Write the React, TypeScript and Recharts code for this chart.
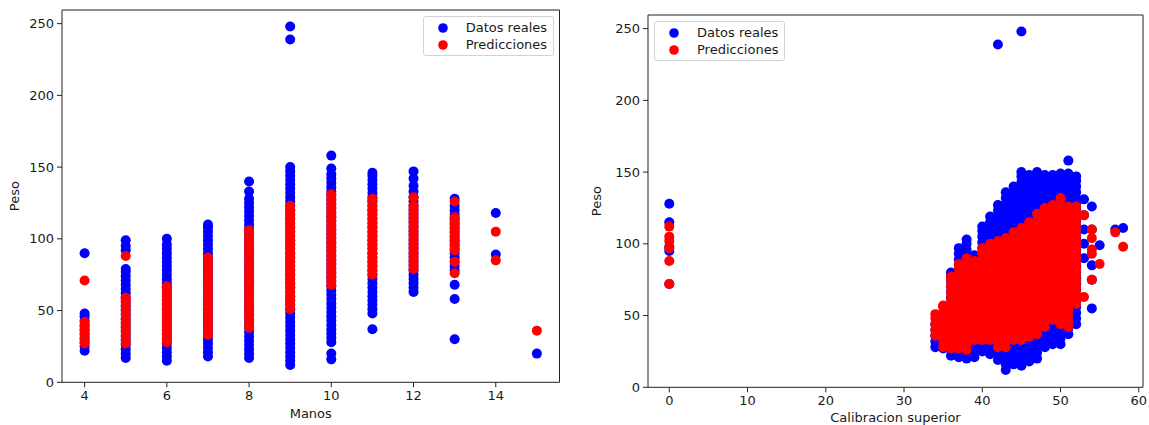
import { ScatterChart, Scatter, XAxis, YAxis, ReferenceArea, Legend } from 'recharts';

const FONT = '"DejaVu Sans", sans-serif';
const TEXT = '#1a1a1a';
const BLUE = '#0000ff';
const RED = '#ff0000';

// Manos vs Peso (one list of pesos per manos value)
const manosValues = [4, 5, 6, 7, 8, 9, 10, 11, 12, 13, 14, 15];
const pesoRealPorManos = [
  [22, 25, 28, 31, 34, 37, 40, 43, 46, 48, 90],
  [17, 20, 23, 26, 29, 32, 35, 38, 41, 44, 47, 50, 53, 56, 59, 62, 65, 68, 71, 74, 77, 79, 92, 95, 99],
  [15, 18, 21, 24, 27, 30, 33, 36, 39, 42, 45, 48, 51, 54, 57, 60, 63, 66, 69, 72, 75, 78, 81, 84, 87, 90, 93, 96, 100],
  [18, 21, 24, 27, 30, 33, 36, 39, 42, 45, 48, 51, 54, 57, 60, 63, 66, 69, 72, 75, 78, 81, 84, 87, 90, 93, 96, 99, 102, 105, 108, 110],
  [17, 20, 23, 26, 29, 32, 35, 38, 41, 44, 47, 50, 53, 56, 59, 62, 65, 68, 71, 74, 77, 80, 83, 86, 89, 92, 95, 98, 101, 104, 107, 110, 113, 116, 119, 122, 125, 128, 133, 140],
  [12, 15, 18, 21, 24, 27, 30, 33, 36, 39, 42, 45, 48, 51, 54, 57, 60, 63, 66, 69, 72, 75, 78, 81, 84, 87, 90, 93, 96, 99, 102, 105, 108, 111, 114, 117, 120, 123, 126, 129, 132, 135, 138, 141, 144, 147, 150, 239, 248],
  [16, 20, 28, 31, 34, 37, 40, 43, 46, 49, 52, 55, 58, 61, 64, 67, 70, 73, 76, 79, 82, 85, 88, 91, 94, 97, 100, 103, 106, 109, 112, 115, 118, 121, 124, 127, 130, 133, 136, 139, 142, 145, 149, 158],
  [37, 48, 51, 54, 57, 60, 63, 66, 69, 72, 75, 78, 81, 84, 87, 90, 93, 96, 99, 102, 105, 108, 111, 114, 117, 120, 123, 126, 129, 132, 135, 138, 141, 144, 146],
  [63, 66, 69, 72, 75, 78, 81, 84, 87, 90, 93, 96, 99, 102, 105, 108, 111, 114, 117, 120, 123, 126, 129, 133, 137, 142, 147],
  [30, 58, 68, 78, 81, 84, 87, 90, 93, 96, 99, 102, 105, 108, 111, 114, 117, 120, 123, 128],
  [89, 118],
  [20],
];
const pesoPredPorManos = [
  [27, 30, 33, 36, 39, 42, 71],
  [27, 30, 33, 36, 39, 42, 45, 48, 51, 54, 57, 59, 88],
  [28, 31, 34, 37, 40, 43, 46, 49, 52, 55, 58, 61, 64, 67],
  [33, 36, 39, 42, 45, 48, 51, 54, 57, 60, 63, 66, 69, 72, 75, 78, 81, 84, 87],
  [38, 41, 44, 47, 50, 53, 56, 59, 62, 65, 68, 71, 74, 77, 80, 83, 86, 89, 92, 95, 98, 101, 104, 106],
  [51, 54, 57, 60, 63, 66, 69, 72, 75, 78, 81, 84, 87, 90, 93, 96, 99, 102, 105, 108, 111, 114, 117, 120, 123],
  [68, 71, 74, 77, 80, 83, 86, 89, 92, 95, 98, 101, 104, 107, 110, 113, 116, 119, 122, 125, 128, 131],
  [75, 78, 81, 84, 87, 90, 93, 96, 99, 102, 105, 108, 111, 114, 117, 120, 123, 126, 128],
  [79, 82, 85, 88, 91, 94, 97, 100, 103, 106, 109, 112, 115, 118, 121, 123, 129],
  [76, 84, 92, 95, 98, 101, 104, 107, 110, 113, 115, 126],
  [85, 105],
  [36],
];
const manosTicks = [4, 6, 8, 10, 12, 14];

// Calibracion superior vs Peso
const calibracionValues = [0, 34, 35, 36, 37, 38, 39, 40, 41, 42, 43, 44, 45, 46, 47, 48, 49, 50, 51, 52, 53, 54, 55, 57, 58];
const pesoRealPorCalibracion = [
  [72, 95, 98, 115, 128],
  [28, 32, 36, 40, 44],
  [27, 31, 35, 39, 43, 47, 51],
  [22, 26, 30, 34, 38, 42, 46, 50, 54, 58, 62, 66, 70, 74, 78, 80],
  [21, 25, 29, 33, 37, 41, 45, 49, 53, 57, 61, 65, 69, 73, 77, 81, 85, 89, 93, 97],
  [20, 24, 28, 32, 36, 40, 44, 48, 52, 56, 60, 64, 68, 72, 76, 80, 84, 88, 92, 96, 100, 103],
  [21, 25, 29, 33, 37, 41, 45, 49, 53, 57, 61, 65, 69, 73, 77, 81, 85, 89, 92],
  [25, 29, 33, 37, 41, 45, 49, 53, 57, 61, 65, 69, 73, 77, 81, 85, 89, 93, 97, 101, 105, 109, 112],
  [23, 27, 31, 35, 39, 43, 47, 51, 55, 59, 63, 67, 71, 75, 79, 83, 87, 91, 95, 99, 103, 107, 111, 115, 119],
  [19, 23, 27, 31, 35, 39, 43, 47, 51, 55, 59, 63, 67, 71, 75, 79, 83, 87, 91, 95, 99, 103, 107, 111, 115, 119, 123, 127, 239],
  [12, 16, 20, 24, 28, 32, 36, 40, 44, 48, 52, 56, 60, 64, 68, 72, 76, 80, 84, 88, 92, 96, 100, 104, 108, 112, 116, 120, 124, 128, 132, 136],
  [16, 20, 24, 28, 32, 36, 40, 44, 48, 52, 56, 60, 64, 68, 72, 76, 80, 84, 88, 92, 96, 100, 104, 108, 112, 116, 120, 124, 128, 132, 136, 140],
  [15, 19, 23, 27, 31, 35, 39, 43, 47, 51, 55, 59, 63, 67, 71, 75, 79, 83, 87, 91, 95, 99, 103, 107, 111, 115, 119, 123, 127, 131, 135, 139, 143, 147, 150, 248],
  [18, 22, 26, 30, 34, 38, 42, 46, 50, 54, 58, 62, 66, 70, 74, 78, 82, 86, 90, 94, 98, 102, 106, 110, 114, 118, 122, 126, 130, 134, 138, 142, 146, 148],
  [20, 24, 28, 32, 36, 40, 44, 48, 52, 56, 60, 64, 68, 72, 76, 80, 84, 88, 92, 96, 100, 104, 108, 112, 116, 120, 124, 128, 132, 136, 140, 144, 148, 150],
  [28, 32, 36, 40, 44, 48, 52, 56, 60, 64, 68, 72, 76, 80, 84, 88, 92, 96, 100, 104, 108, 112, 116, 120, 124, 128, 132, 136, 140, 144, 148],
  [30, 34, 38, 42, 46, 50, 54, 58, 62, 66, 70, 74, 78, 82, 86, 90, 94, 98, 102, 106, 110, 114, 118, 122, 126, 130, 134, 138, 142, 146, 148],
  [30, 34, 38, 42, 46, 50, 54, 58, 62, 66, 70, 74, 78, 82, 86, 90, 94, 98, 102, 106, 110, 114, 118, 122, 126, 130, 134, 138, 142, 146, 149],
  [37, 41, 45, 49, 53, 57, 61, 65, 69, 73, 77, 81, 85, 89, 93, 97, 101, 105, 109, 113, 117, 121, 125, 129, 133, 137, 141, 145, 149, 158],
  [44, 48, 52, 56, 60, 64, 68, 72, 76, 80, 84, 88, 92, 96, 100, 104, 108, 112, 116, 120, 124, 128, 132, 136, 140, 144, 147],
  [90, 100, 110, 120, 131],
  [55, 75, 85, 110, 126],
  [99],
  [110],
  [111],
];
const pesoPredPorCalibracion = [
  [72, 88, 97, 102, 105, 112],
  [36, 40, 44, 48, 51],
  [28, 32, 36, 40, 44, 48, 52, 56, 57],
  [27, 31, 35, 39, 43, 47, 51, 55, 59, 63, 67, 71, 75, 77],
  [27, 31, 35, 39, 43, 47, 51, 55, 59, 63, 67, 71, 75, 79, 83, 86],
  [26, 30, 34, 38, 42, 46, 50, 54, 58, 62, 66, 70, 74, 78, 82, 86, 90],
  [33, 37, 41, 45, 49, 53, 57, 61, 65, 69, 73, 77, 81, 85, 88],
  [33, 37, 41, 45, 49, 53, 57, 61, 65, 69, 73, 77, 81, 85, 89, 93, 97],
  [33, 37, 41, 45, 49, 53, 57, 61, 65, 69, 73, 77, 81, 85, 89, 93, 97, 100],
  [28, 32, 36, 40, 44, 48, 52, 56, 60, 64, 68, 72, 76, 80, 84, 88, 92, 96, 100, 102],
  [28, 32, 36, 40, 44, 48, 52, 56, 60, 64, 68, 72, 76, 80, 84, 88, 92, 96, 100, 104],
  [33, 37, 41, 45, 49, 53, 57, 61, 65, 69, 73, 77, 81, 85, 89, 93, 97, 101, 105, 108],
  [33, 37, 41, 45, 49, 53, 57, 61, 65, 69, 73, 77, 81, 85, 89, 93, 97, 101, 105, 109, 111],
  [35, 39, 43, 47, 51, 55, 59, 63, 67, 71, 75, 79, 83, 87, 91, 95, 99, 103, 107, 111, 115],
  [37, 41, 45, 49, 53, 57, 61, 65, 69, 73, 77, 81, 85, 89, 93, 97, 101, 105, 109, 113, 117, 121],
  [42, 46, 50, 54, 58, 62, 66, 70, 74, 78, 82, 86, 90, 94, 98, 102, 106, 110, 114, 118, 122, 125],
  [47, 51, 55, 59, 63, 67, 71, 75, 79, 83, 87, 91, 95, 99, 103, 107, 111, 115, 119, 123, 127],
  [44, 48, 52, 56, 60, 64, 68, 72, 76, 80, 84, 88, 92, 96, 100, 104, 108, 112, 116, 120, 124, 128, 132],
  [42, 46, 50, 54, 58, 62, 66, 70, 74, 78, 82, 86, 90, 94, 98, 102, 106, 110, 114, 118, 122, 126],
  [58, 62, 66, 70, 74, 78, 82, 86, 90, 94, 98, 102, 106, 110, 114, 118, 122, 126],
  [63, 120],
  [75, 93, 96, 104, 110],
  [86],
  [108],
  [98],
];
const calibracionTicks = [0, 10, 20, 30, 40, 50, 60];
const pesoTicks = [0, 50, 100, 150, 200, 250];

const toPoints = (xs: number[], ys: number[][]) =>
  xs.flatMap((x, i) => ys[i].map((y) => ({ x, y })));

const Dot = (props: any) => <circle cx={props.cx} cy={props.cy} r={5} fill={props.fill} />;

const LegendBox = ({ payload }: any) => (
  <div
    style={{
      position: 'relative',
      width: 131,
      height: 40,
      boxSizing: 'border-box',
      border: '1px solid #d3d3d3',
      borderRadius: 3,
      background: 'rgba(255,255,255,0.8)',
      fontFamily: FONT,
      fontSize: 13,
      color: TEXT,
    }}
  >
    {(payload || []).map((entry: any, i: number) => (
      <div key={i} style={{ position: 'absolute', left: 0, top: 3 + i * 17, height: 16, width: 131 }}>
        <svg width={30} height={16} style={{ position: 'absolute', left: 0, top: 0 }}>
          <circle cx={19} cy={8} r={4.8} fill={entry.color} />
        </svg>
        <span style={{ position: 'absolute', left: 42, top: 0, lineHeight: '16px', whiteSpace: 'nowrap' }}>
          {entry.value}
        </span>
      </div>
    ))}
  </div>
);

type PanelProps = {
  width: number;
  yAxisWidth: number;
  marginRight: number;
  marginTop: number;
  xAxisHeight: number;
  xDomain: [number, number];
  xTicks: number[];
  xLabel: string;
  xLabelOffset: number;
  yLabelX: number;
  legendLeft: number;
  legendTop: number;
  real: { x: number; y: number }[];
  pred: { x: number; y: number }[];
};

const Panel = (p: PanelProps) => {
  const yDomain: [number, number] = [0, 259.5];
  const plotTop = p.marginTop;
  const plotBottom = 425 - p.xAxisHeight;
  const yMid = (plotTop + plotBottom) / 2;
  return (
    <ScatterChart
      width={p.width}
      height={425}
      margin={{ top: p.marginTop, right: p.marginRight, bottom: 0, left: 0 }}
    >
      <XAxis
        type="number"
        dataKey="x"
        domain={p.xDomain}
        allowDataOverflow
        ticks={p.xTicks}
        interval={0}
        height={p.xAxisHeight}
        axisLine={false}
        tickSize={5}
        tickMargin={3}
        tickLine={{ stroke: '#222' }}
        tick={{ fill: TEXT, fontSize: 13, fontFamily: FONT }}
        label={{ value: p.xLabel, position: 'insideBottom', offset: p.xLabelOffset, fill: TEXT, fontSize: 13, fontFamily: FONT }}
      />
      <YAxis
        type="number"
        dataKey="y"
        domain={yDomain}
        allowDataOverflow
        ticks={pesoTicks}
        interval={0}
        width={p.yAxisWidth}
        axisLine={false}
        tickSize={5}
        tickMargin={3}
        tickLine={{ stroke: '#222' }}
        tick={{ fill: TEXT, fontSize: 13, fontFamily: FONT }}
        label={{
          content: () => (
            <text
              x={p.yLabelX}
              y={yMid}
              transform={`rotate(-90 ${p.yLabelX} ${yMid})`}
              textAnchor="middle"
              dominantBaseline="central"
              fill={TEXT}
              fontSize={13}
              fontFamily={FONT}
            >
              Peso
            </text>
          ),
        }}
      />
      <ReferenceArea
        x1={p.xDomain[0]}
        x2={p.xDomain[1]}
        y1={yDomain[0]}
        y2={yDomain[1]}
        fill="none"
        stroke="#222"
        strokeWidth={1}
        ifOverflow="visible"
      />
      <Scatter name="Datos reales" data={p.real} fill={BLUE} shape={Dot} isAnimationActive={false} />
      <Scatter name="Predicciones" data={p.pred} fill={RED} shape={Dot} isAnimationActive={false} />
      <Legend
        layout="horizontal"
        verticalAlign="middle"
        align="center"
        content={LegendBox}
        wrapperStyle={{ left: p.legendLeft, top: p.legendTop, width: 131, height: 40 }}
      />
    </ScatterChart>
  );
};

const App = () => {
  return (
    <div style={{ position: 'absolute', left: 0, top: 0, width: 1149, height: 425, background: '#fff' }}>
      <div style={{ position: 'absolute', left: 0, top: 0 }}>
        <Panel
          width={575}
          yAxisWidth={62}
          marginRight={15.5}
          marginTop={10}
          xAxisHeight={42.7}
          xDomain={[3.45, 15.55]}
          xTicks={manosTicks}
          xLabel="Manos"
          xLabelOffset={7.5}
          yLabelX={15}
          legendLeft={422.7}
          legendTop={16}
          real={toPoints(manosValues, pesoRealPorManos)}
          pred={toPoints(manosValues, pesoPredPorManos)}
        />
      </div>
      <div style={{ position: 'absolute', left: 580, top: 0 }}>
        <Panel
          width={569}
          yAxisWidth={68}
          marginRight={6}
          marginTop={15}
          xAxisHeight={37.7}
          xDomain={[-2.72, 60.54]}
          xTicks={calibracionTicks}
          xLabel="Calibracion superior"
          xLabelOffset={3}
          yLabelX={17}
          legendLeft={74}
          legendTop={20.7}
          real={toPoints(calibracionValues, pesoRealPorCalibracion)}
          pred={toPoints(calibracionValues, pesoPredPorCalibracion)}
        />
      </div>
    </div>
  );
};

export default App;
